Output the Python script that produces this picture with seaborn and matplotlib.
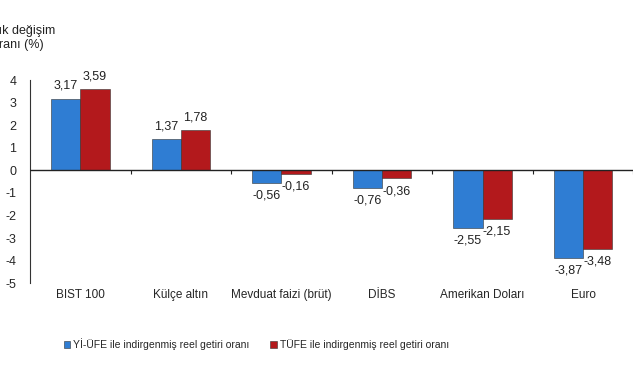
import numpy as np
import pandas as pd
import matplotlib
matplotlib.use("Agg")
import matplotlib.pyplot as plt
import seaborn as sns

# Data
categories = ["BIST 100", "Külçe altın", "Mevduat faizi (brüt)", "DİBS", "Amerikan Doları", "Euro"]
yi_ufe = [3.17, 1.37, -0.56, -0.76, -2.55, -3.87]
tufe = [3.59, 1.78, -0.16, -0.36, -2.15, -3.48]
series_names = ["Yİ-ÜFE ile indirgenmiş reel getiri oranı", "TÜFE ile indirgenmiş reel getiri oranı"]
y_ticks = [4, 3, 2, 1, 0, -1, -2, -3, -4, -5]

df = pd.DataFrame({
    "Kategori": categories * 2,
    "Seri": [series_names[0]] * len(categories) + [series_names[1]] * len(categories),
    "Deger": yi_ufe + tufe,
})

sns.set_style("white")
plt.rcParams["font.family"] = ["Liberation Sans", "DejaVu Sans"]

fig = plt.figure(figsize=(6.41, 3.80), dpi=100)
ax = fig.add_axes([0.047, 0.255, 0.941, 0.534])

colors = ["#2f7dd3", "#b3191c"]
sns.barplot(data=df, x="Kategori", y="Deger", hue="Seri", palette=colors,
            width=0.58, saturation=1, edgecolor="#333333", linewidth=0.4, ax=ax)

# Data labels
for cont in ax.containers:
    labels = [f"{v:.2f}".replace(".", ",") for v in cont.datavalues]
    ax.bar_label(cont, labels=labels, padding=5, fontsize=9, color="#222222")

ax.set_ylim(-5, 4)
ax.set_xlim(-0.5, len(categories) - 0.5)
ax.set_yticks(y_ticks)
ax.set_yticklabels([str(t) for t in y_ticks], fontsize=9)
ax.tick_params(axis="y", direction="out", length=4, width=0.8, color="#333333", pad=6)
ax.tick_params(axis="x", length=0, pad=4, labelsize=8.5)
ax.set_xlabel("")
ax.set_ylabel("")

for s in ["top", "right", "bottom"]:
    ax.spines[s].set_visible(False)
ax.spines["left"].set_color("#333333")
ax.spines["left"].set_linewidth(0.8)

# zero line with category separator ticks
ax.axhline(0, color="#222222", linewidth=1.0, zorder=3)
ax.vlines(np.arange(len(categories)) + 0.5, -0.15, 0, color="#222222", linewidth=0.8)

# y-axis title (partly cut at the left edge, as in the source)
fig.text(0.028, 0.90, "Yıllık değişim\noranı (%)", ha="center", va="center", fontsize=9,
         linespacing=1.2, color="#222222")

# Legend
handles, lbls = ax.get_legend_handles_labels()
ax.legend(handles, lbls, loc="center", bbox_to_anchor=(0.375, -0.30), ncol=2, frameon=False,
          fontsize=7.5, handlelength=0.6, handleheight=0.6, handletextpad=0.3, columnspacing=2.0)

fig.savefig("out.png", dpi=100)
